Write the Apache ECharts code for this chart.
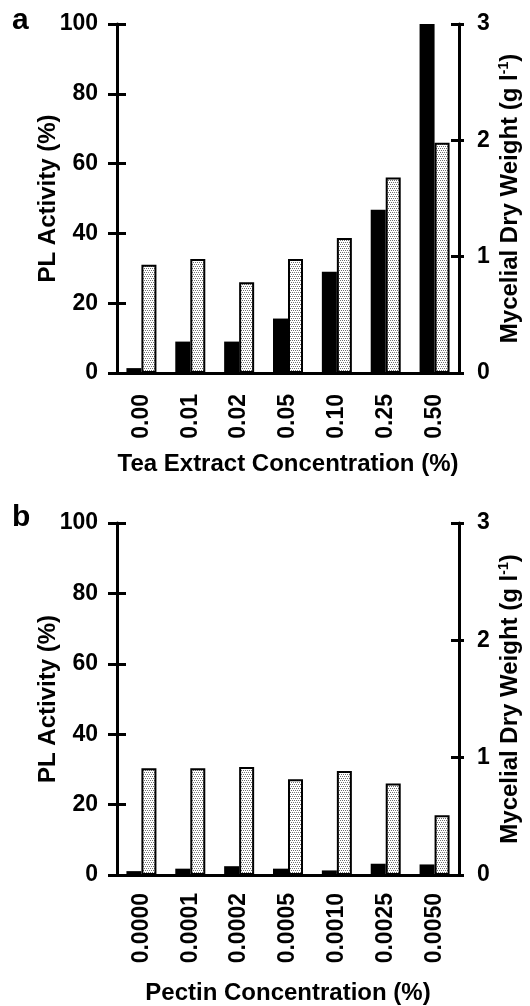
<!DOCTYPE html>
<html>
<head>
<meta charset="utf-8">
<script src="https://cdn.jsdelivr.net/npm/echarts@6/dist/echarts.min.js"></script>
<style>
  html, body { margin: 0; padding: 0; background: #fff; }
  #chart { width: 530px; height: 1006px; }
</style>
</head>
<body>
<div id="chart"></div>
<script>
// panel a: tea extract
const teaCats = ['0.00', '0.01', '0.02', '0.05', '0.10', '0.25', '0.50'];
const teaPL = [1.4, 9, 9, 15.6, 29, 46.8, 100];
const teaMDW = [0.93, 0.98, 0.78, 0.98, 1.16, 1.68, 1.98];

// panel b: pectin
const pecCats = ['0.0000', '0.0001', '0.0002', '0.0005', '0.0010', '0.0025', '0.0050'];
const pecPL = [1.1, 1.8, 2.5, 1.8, 1.3, 3.2, 3.0];
const pecMDW = [0.91, 0.91, 0.92, 0.815, 0.886, 0.78, 0.51];

const plTicks = [0, 100, 20];
const mdwTicks = [0, 3, 1];

const FONT = 'Liberation Sans';

// stipple fill for the dry weight bars
const pat = document.createElement('canvas');
pat.width = 4; pat.height = 4;
const pc = pat.getContext('2d');
pc.fillStyle = '#ffffff'; pc.fillRect(0, 0, 4, 4);
pc.fillStyle = '#6e6e6e';
pc.fillRect(0, 0, 1, 1); pc.fillRect(2, 0, 1, 1);
pc.fillRect(1, 2, 1, 1); pc.fillRect(3, 2, 1, 1);

const lineStyle = { color: '#000', width: 3 };
const labelStyle = { color: '#000', fontFamily: FONT, fontWeight: 'bold', fontSize: 23 };
const nameStyle = { color: '#000', fontFamily: FONT, fontWeight: 'bold', fontSize: 24 };

function catAxis(grid, cats, name, gap, margin) {
  return [
    {
      type: 'category', gridIndex: grid, data: cats,
      axisLine: { lineStyle },
      axisTick: { length: 10, lineStyle },
      axisLabel: Object.assign({ rotate: 90, margin, interval: 0 }, labelStyle),
      name, nameLocation: 'middle', nameGap: gap, nameMoveOverlap: false,
      nameTextStyle: nameStyle
    },
    {
      type: 'category', gridIndex: grid, data: cats, position: 'bottom',
      axisLine: { show: false },
      axisTick: { inside: true, length: 8, lineStyle },
      axisLabel: { show: false }
    }
  ];
}

function valAxes(grid) {
  const mdwName = '{n|Mycelial Dry Weight (g l}{s|-1}{n|)}';
  return [
    {
      type: 'value', gridIndex: grid, position: 'left',
      min: plTicks[0], max: plTicks[1], interval: plTicks[2],
      axisLine: { show: true, lineStyle },
      axisTick: { show: true, length: 9, lineStyle },
      splitLine: { show: false },
      axisLabel: Object.assign({ margin: 19 }, labelStyle),
      name: 'PL Activity (%)', nameLocation: 'middle', nameGap: 57,
      nameMoveOverlap: false, nameTextStyle: nameStyle
    },
    {
      type: 'value', gridIndex: grid, position: 'right',
      min: mdwTicks[0], max: mdwTicks[1], interval: mdwTicks[2],
      axisLine: { show: true, lineStyle },
      axisTick: { show: true, length: 5, lineStyle },
      splitLine: { show: false },
      axisLabel: Object.assign({ margin: 18 }, labelStyle),
      name: mdwName, nameLocation: 'middle', nameGap: 38, nameMoveOverlap: false,
      nameTextStyle: Object.assign({}, nameStyle, {
        rich: {
          n: { fontFamily: FONT, fontWeight: 'bold', fontSize: 24, color: '#000', lineHeight: 26 },
          s: { fontFamily: FONT, fontWeight: 'bold', fontSize: 14, color: '#000', verticalAlign: 'top', lineHeight: 26 }
        }
      })
    },
    {
      type: 'value', gridIndex: grid, position: 'left',
      min: plTicks[0], max: plTicks[1], interval: plTicks[2],
      axisLine: { show: false },
      axisTick: { show: true, inside: true, length: 9, lineStyle },
      splitLine: { show: false }, axisLabel: { show: false }
    },
    {
      type: 'value', gridIndex: grid, position: 'right',
      min: mdwTicks[0], max: mdwTicks[1], interval: mdwTicks[2],
      axisLine: { show: false },
      axisTick: { show: true, inside: true, length: 8, lineStyle },
      splitLine: { show: false }, axisLabel: { show: false }
    }
  ];
}

function barPair(xi, yi, pl, mdw) {
  return [
    {
      type: 'bar', xAxisIndex: xi, yAxisIndex: yi, data: pl,
      barWidth: 15, barGap: '0%',
      itemStyle: { color: '#000' }, silent: true
    },
    {
      type: 'bar', xAxisIndex: xi, yAxisIndex: yi + 1, data: mdw,
      barWidth: 15, barGap: '0%',
      itemStyle: { color: { image: pat, repeat: 'repeat' }, borderColor: '#000', borderWidth: 2 },
      silent: true
    }
  ];
}

const chart = echarts.init(document.getElementById('chart'), null, { renderer: 'canvas' });

chart.setOption({
  animation: false,
  backgroundColor: '#fff',
  grid: [
    { left: 117, right: 68, top: 24, height: 349 },
    { left: 117, right: 68, top: 523, height: 354 }
  ],
  xAxis: [].concat(
    catAxis(0, teaCats, 'Tea Extract Concentration (%)', 79, 21),
    catAxis(1, pecCats, 'Pectin Concentration (%)', 106, 18)
  ),
  yAxis: [].concat(valAxes(0), valAxes(1)),
  series: [].concat(
    barPair(0, 0, teaPL, teaMDW),
    barPair(2, 4, pecPL, pecMDW)
  ),
  graphic: [
    { type: 'text', left: 12, top: 6, style: { text: 'a', font: 'bold 30px "Liberation Sans"', fill: '#000' } },
    { type: 'text', left: 12, top: 503, style: { text: 'b', font: 'bold 30px "Liberation Sans"', fill: '#000' } }
  ]
});
</script>
</body>
</html>
